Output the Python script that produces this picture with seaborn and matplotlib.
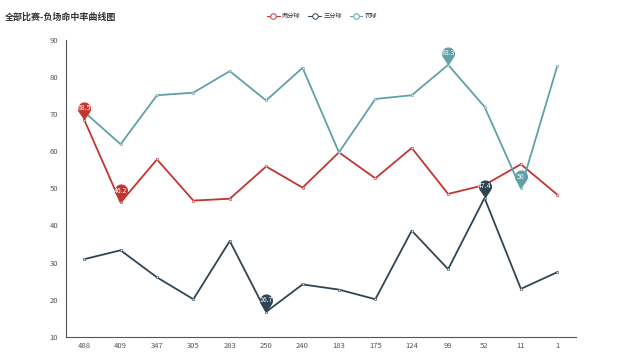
import numpy as np
import pandas as pd
import matplotlib
matplotlib.use("Agg")
import matplotlib.pyplot as plt
from matplotlib.path import Path
from matplotlib.lines import Line2D
import seaborn as sns

categories = ["488", "409", "347", "305", "283", "250", "240", "183", "175", "124", "99", "52", "11", "1"]
two_pt = [68.5, 46.2, 57.8, 46.7, 47.2, 55.9, 50.2, 59.7, 52.7, 60.9, 48.5, 50.9, 56.5, 48.3]
three_pt = [30.9, 33.3, 26.0, 20.1, 35.8, 16.7, 24.1, 22.7, 20.1, 38.6, 28.2, 47.4, 22.9, 27.4]
free_throw = [70.6, 61.9, 75.1, 75.8, 81.6, 73.7, 82.5, 59.7, 74.1, 75.1, 83.3, 72.0, 50.0, 83.0]
series_names = ["两分球", "三分球", "罚球"]
colors = ["#c23531", "#2f4554", "#61a0a8"]
y_ticks = [10, 20, 30, 40, 50, 60, 70, 80, 90]

sns.set_theme(style="white")
plt.rcParams["font.family"] = ["Noto Sans CJK SC", "DejaVu Sans"]

df = pd.DataFrame({
    "场次": categories * 3,
    "命中率": two_pt + three_pt + free_throw,
    "类型": [series_names[0]] * len(categories) + [series_names[1]] * len(categories) + [series_names[2]] * len(categories),
})

fig = plt.figure(figsize=(6.4, 3.6), dpi=100)
ax = fig.add_axes([66 / 640, 1 - 336.7 / 360, (575.5 - 66) / 640, (336.7 - 40) / 360])

for name, col in zip(series_names, colors):
    sub = df[df["类型"] == name]
    sns.lineplot(data=sub, x="场次", y="命中率", ax=ax, color=col, linewidth=1.3,
                 marker="o", markersize=1.8, markerfacecolor="#eeeeee",
                 markeredgecolor=col, markeredgewidth=0.4, sort=False, legend=False)

ax.set_xlim(-0.5, len(categories) - 0.5)
ax.set_ylim(10, 90)
ax.set_yticks(y_ticks)
ax.set_xticks(range(len(categories)))
ax.set_xticklabels(categories)
ax.set_xlabel("")
ax.set_ylabel("")
for s in ["top", "right"]:
    ax.spines[s].set_visible(False)
for s in ["left", "bottom"]:
    ax.spines[s].set_color("#555555")
    ax.spines[s].set_linewidth(0.8)
ax.tick_params(axis="both", labelsize=5.5, colors="#555555", length=0, pad=4)
ax.tick_params(axis="y", length=2.5, width=0.6, color="#555555", pad=3)
ax.set_xticks(np.arange(-0.5, len(categories), 1.0), minor=True)
ax.tick_params(axis="x", which="minor", length=2.5, width=0.6, color="#555555")
ax.grid(False)

# pin marker
r, c = 1.0, 1.77
beta = np.arccos(r / c)
angs = np.linspace(-np.pi / 2 + beta, 3 * np.pi / 2 - beta, 40)
verts = [(0, 0)] + [(r * np.cos(a), c + r * np.sin(a)) for a in angs] + [(0, 0)]
codes = [Path.MOVETO] + [Path.LINETO] * (len(verts) - 2) + [Path.CLOSEPOLY]
pin = Path(verts, codes)
pin_ms = 26
center_off = pin_ms * 0.5 * c / (c + r)

def add_pin(idx, values, col):
    v = values[idx]
    ax.plot([idx], [v], marker=pin, markersize=pin_ms, color=col, markeredgewidth=0, zorder=10, linestyle="none")
    lab = ("%g" % v)
    ax.annotate(lab, (idx, v), xytext=(0, center_off), textcoords="offset points",
                ha="center", va="center", fontsize=5, color="white", zorder=11)

for vals, col in zip([two_pt, three_pt, free_throw], colors):
    add_pin(int(np.argmax(vals)), vals, col)
    add_pin(int(np.argmin(vals)), vals, col)

fig.text(5 / 640, 1 - 17 / 360, "全部比赛-负场命中率曲线图", fontsize=6.5, fontweight="bold",
         color="#333333", va="center", ha="left")

handles = [Line2D([0], [0], color=col, linewidth=0.8, marker="o", markersize=4,
                  markerfacecolor="white", markeredgecolor=col, markeredgewidth=0.7)
           for col in colors]
fig.legend(handles, series_names, loc="center", bbox_to_anchor=(322 / 640, 1 - 16 / 360),
           ncol=3, frameon=False, fontsize=4.5, handlelength=2.0, handletextpad=0.4,
           columnspacing=1.2, labelcolor="#333333")

fig.savefig("out.png", dpi=100, facecolor="white")
